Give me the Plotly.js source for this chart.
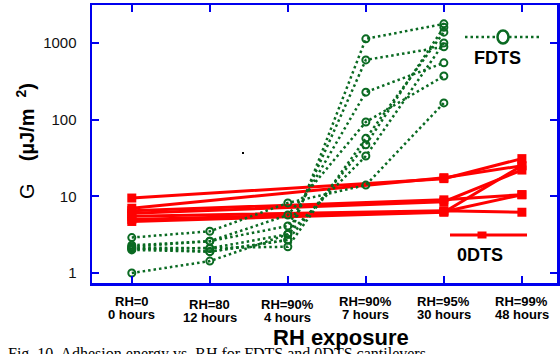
<!DOCTYPE html>
<html>
<head>
<meta charset="utf-8">
<script src="https://cdn.plot.ly/plotly-3.0.1.min.js"></script>
<style>html,body{margin:0;padding:0;background:#fff;}#chart{width:560px;height:354px;}</style>
</head>
<body>
<div id="chart"></div>
<script>
// ---- data ----
const categoriesLine1 = ["RH=0", "RH=80", "RH=90%", "RH=90%", "RH=95%", "RH=99%"];
const categoriesLine2 = ["0 hours", "12 hours", "4 hours", "7 hours", "30 hours", "48 hours"];
const categoryIndex = [0, 1, 2, 3, 4, 5];

const fdtsX = [0, 1, 2, 3, 4];
const fdts1 = [2.9, 3.5, 8.2, 14, 165];
const fdts2 = [2.3, 2.6, 5.7, 93, 370];
const fdts3 = [2.2, 2.6, 4.1, 228, 550];
const fdts4 = [2.15, 2.1, 3.2, 600, 890];
const fdts5 = [2.1, 1.9, 2.7, 1130, 1770];
const fdts6 = [2.05, 2.1, 2.2, 57, 1380];
const fdts7 = [2.0, 1.9, 2.7, 47, 1600];
const fdts8 = [1.0, 1.43, 3.2, 33.5, 1000];

const odtsX = [0, 4, 5];
const odts1 = [9.5, 17, 31];
const odts2 = [7.0, 17.5, 25];
const odts3 = [6.5, 9.0, 10.5];
const odts4 = [6.0, 8.5, 22];
const odts5 = [5.5, 6.5, 6.2];
const odts6 = [5.0, 6.3, 10.5];
const odts7 = [4.7, 6.2, 25];

const yTickVals = [1, 10, 100, 1000];
const yTickText = ["1", "10", "100", "1000"];
const yTitle = "G    <b>(µJ/m  <sup>2</sup>)</b>";
const xTitle = "RH exposure";

// ---- styling / layout ----
const GREEN = "#0a6a22";
const RED = "#ff0000";
const BLUE = "#0000ee";
const W = 560, H = 354;
const M = {l: 92, r: 3, t: 5, b: 71};
const PW = W - M.l - M.r, PH = H - M.t - M.b;
const px = x => (x - M.l) / PW;
const py = y => (H - M.b - y) / PH;

const traces = [];
[odts1, odts2, odts3, odts4, odts5, odts6, odts7].forEach(v => {
  traces.push({
    type: "scatter", mode: "lines+markers", x: odtsX, y: v,
    line: {color: RED, width: 3},
    marker: {symbol: "square", size: 9, color: RED},
    showlegend: false, hoverinfo: "skip"
  });
});
[fdts1, fdts2, fdts3, fdts4, fdts5, fdts6, fdts7, fdts8].forEach(v => {
  traces.push({
    type: "scatter", mode: "lines+markers", x: fdtsX, y: v,
    line: {color: GREEN, width: 2.5, dash: "2.5px,3px"},
    marker: {symbol: "circle-open", size: 7, color: GREEN, line: {width: 2, color: GREEN}},
    showlegend: false, hoverinfo: "skip"
  });
});

const annotations = [];
const drop = [0, 3, 3, 0, 0, 0];
categoryIndex.forEach((c, i) => {
  annotations.push({x: c, xref: "x", y: py(301.5 + drop[i]), yref: "paper", text: "<b>" + categoriesLine1[i] + "</b>",
    showarrow: false, xanchor: "center", yanchor: "middle", font: {family: "Arial, Liberation Sans", size: 13, color: "#000"}});
  annotations.push({x: c, xref: "x", y: py(314 + drop[i]), yref: "paper", text: "<b>" + categoriesLine2[i] + "</b>",
    showarrow: false, xanchor: "center", yanchor: "middle", font: {family: "Arial, Liberation Sans", size: 13, color: "#000"}});
});
annotations.push({x: px(341), xref: "paper", y: py(337), yref: "paper", text: "<b>" + xTitle + "</b>",
  showarrow: false, xanchor: "center", yanchor: "middle", font: {family: "Arial, Liberation Sans", size: 22, color: "#000"}});
annotations.push({x: px(25), xref: "paper", y: py(141), yref: "paper", text: yTitle, textangle: -90,
  showarrow: false, xanchor: "center", yanchor: "middle", font: {family: "Arial, Liberation Sans", size: 20, color: "#000"}});
annotations.push({x: px(497), xref: "paper", y: py(58), yref: "paper", text: "<b>FDTS</b>",
  showarrow: false, xanchor: "center", yanchor: "middle", font: {family: "Arial, Liberation Sans", size: 18, color: "#000"}});
annotations.push({x: px(480), xref: "paper", y: py(255), yref: "paper", text: "<b>0DTS</b>",
  showarrow: false, xanchor: "center", yanchor: "middle", font: {family: "Arial, Liberation Sans", size: 18, color: "#000"}});
annotations.push({x: px(6), xref: "paper", y: py(343), yref: "paper", text: "Fig. 10. Adhesion energy vs. RH for FDTS and 0DTS cantilevers",
  showarrow: false, xanchor: "left", yanchor: "top", font: {family: "Liberation Serif, Times New Roman", size: 16, color: "#000"}});

const shapes = [
  {type: "line", xref: "paper", yref: "paper", x0: px(465), x1: px(542), y0: py(37), y1: py(37),
    line: {color: GREEN, width: 2.5, dash: "2.5px,3px"}},
  {type: "circle", xref: "paper", yref: "paper", x0: px(497.5), x1: px(508.5), y0: py(43.5), y1: py(30.5),
    line: {color: GREEN, width: 2.5}, fillcolor: "#fff"},
  {type: "line", xref: "paper", yref: "paper", x0: px(450), x1: px(527), y0: py(235), y1: py(235),
    line: {color: RED, width: 3}},
  {type: "rect", xref: "paper", yref: "paper", x0: px(477.5), x1: px(486.5), y0: py(238.5), y1: py(231.5),
    line: {color: RED, width: 0}, fillcolor: RED},
  {type: "rect", xref: "paper", yref: "paper", x0: px(242), x1: px(244), y0: py(154), y1: py(152),
    line: {width: 0}, fillcolor: "#000"}
];

const layout = {
  width: W, height: H,
  margin: M,
  paper_bgcolor: "#fff", plot_bgcolor: "#fff",
  showlegend: false,
  font: {family: "Arial, Liberation Sans", color: "#000"},
  xaxis: {
    range: [-0.51, 5.45], tickvals: categoryIndex, showticklabels: false,
    showline: true, linecolor: BLUE, linewidth: 2.5, mirror: "ticks",
    ticks: "inside", ticklen: 7, tickwidth: 2, tickcolor: BLUE,
    showgrid: false, zeroline: false
  },
  yaxis: {
    type: "log", range: [-0.13, 3.494], tickvals: yTickVals, ticktext: yTickText,
    showline: true, linecolor: BLUE, linewidth: 2.5, mirror: "ticks",
    ticks: "inside", ticklen: 7, tickwidth: 2, tickcolor: BLUE,
    tickfont: {family: "Arial, Liberation Sans", size: 15, color: "#111"},
    ticklabelstandoff: 10,
    showgrid: false, zeroline: false
  },
  annotations: annotations,
  shapes: shapes
};

Plotly.newPlot("chart", traces, layout, {displayModeBar: false, staticPlot: true});
</script>
</body>
</html>
